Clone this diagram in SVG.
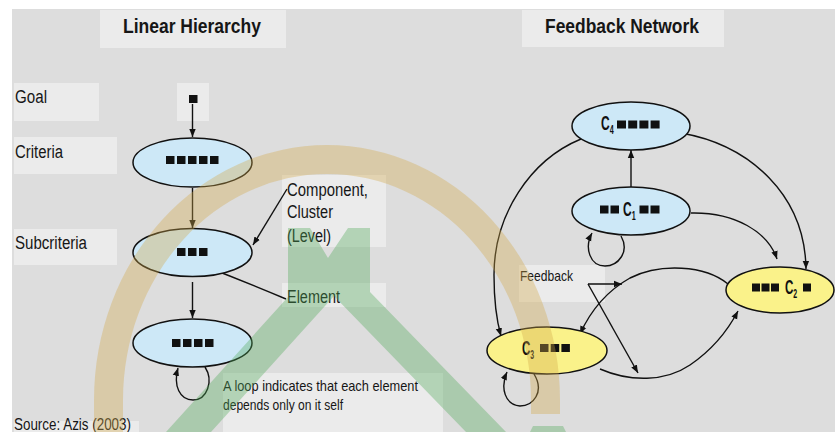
<svg xmlns="http://www.w3.org/2000/svg" width="835" height="432" viewBox="0 0 835 432">
  <defs>
    <style>
      .panel { fill: #ebebeb; }
      .ell-blue { fill: #cde8f7; stroke: #111; stroke-width: 1.5; }
      .ell-yel { fill: #faf28a; stroke: #111; stroke-width: 1.5; }
      .sq { fill: #111; }
      .edge { fill: none; stroke: #111; stroke-width: 1.4; marker-end: url(#arr); }
      .txt { font-family: "Liberation Sans Narrow", "Liberation Sans", Arial, sans-serif; fill: #161616; }
      .title { font-size: 21px; font-weight: bold; }
      .lbl { font-size: 18px; }
      .note { font-size: 15px; }
      .cname { font-family: "Liberation Sans", Arial, sans-serif; font-size: 20px; font-weight: bold; fill: #111; }
      .csub { font-size: 12px; }
      .wm-tan { fill: #d2a94c; opacity: 0.36; }
      .wm-green { fill: #4fa85a; opacity: 0.36; }
    </style>
    <marker id="arr" viewBox="0 0 10 10" refX="10" refY="5" markerWidth="8" markerHeight="8" markerUnits="userSpaceOnUse" orient="auto">
      <path d="M0,1 L10,5 L0,9 z" fill="#111"/>
    </marker>
  </defs>

  <!-- page -->
  <rect x="0" y="0" width="835" height="432" fill="#ffffff"/>
  <rect x="12" y="9" width="823" height="423" fill="#dddddd"/>

  <!-- light caption panels -->
  <g id="panels">
    <rect class="panel" x="100" y="10" width="186" height="38"/>
    <rect class="panel" x="522" y="10" width="202" height="37"/>
    <rect class="panel" x="14" y="83" width="85" height="38"/>
    <rect class="panel" x="177" y="83" width="32" height="38"/>
    <rect class="panel" x="14" y="137" width="103" height="37"/>
    <rect class="panel" x="14" y="229" width="103" height="36"/>
    <rect class="panel" x="282" y="175" width="104" height="72"/>
    <rect class="panel" x="282" y="283" width="104" height="24"/>
    <rect class="panel" x="223" y="373" width="220" height="59"/>
    <rect class="panel" x="519" y="265" width="86" height="37"/>
    <rect class="panel" x="14" y="421" width="125" height="11"/>
  </g>

  <!-- titles -->
  <text class="txt title" x="123" y="33" textLength="138" lengthAdjust="spacingAndGlyphs">Linear Hierarchy</text>
  <text class="txt title" x="545" y="33" textLength="154" lengthAdjust="spacingAndGlyphs">Feedback Network</text>

  <!-- level labels -->
  <text class="txt lbl" x="15" y="103" textLength="32" lengthAdjust="spacingAndGlyphs">Goal</text>
  <text class="txt lbl" x="15" y="158" textLength="48" lengthAdjust="spacingAndGlyphs">Criteria</text>
  <text class="txt lbl" x="15" y="249" textLength="72" lengthAdjust="spacingAndGlyphs">Subcriteria</text>

  <!-- connectors -->
  <g id="connectors">
    <!-- linear hierarchy -->
    <path id="e-goal-crit" class="edge" d="M192.5,104 L192.5,137"/>
    <path id="e-crit-sub" class="edge" d="M192.5,188 L192.5,228"/>
    <path id="e-sub-bot" class="edge" d="M192.5,282 L192.5,318"/>
    <path id="e-bot-loop" class="edge" d="M205,367 C214,381 207,400 193,400 C180,400 173,386 178,368"/>
    <path id="e-comp" class="edge" d="M287,189 L253,245"/>
    <path id="e-elem" class="edge" d="M286,299 Q246,282 204,266"/>

    <!-- feedback network -->
    <path id="e-c1-c4" class="edge" d="M631,187 L631,150"/>
    <path id="e-c4-c3" class="edge" d="M581,139 C530,160 494,215 494,275 C494,305 497,322 501,336"/>
    <path id="e-c4-c2" class="edge" d="M681,133 C750,145 805,195 806,269"/>
    <path id="e-c1-c2" class="edge" d="M691,213 C735,212 768,232 777,259"/>
    <path id="e-c1-loop" class="edge" d="M621,236 C630,252 618,266 605,266 C590,266 584,248 592,233"/>
    <path id="e-c2-c3" class="edge" d="M728,284 C705,265 660,263 630,278 C605,292 590,312 580,334"/>
    <path id="e-c3-c2" class="edge" d="M600,369 C630,382 665,382 690,365 C712,350 728,330 738,311"/>
    <path id="e-c3-loop" class="edge" d="M534,374 C545,392 533,406 520,406 C505,405 500,388 507,372"/>
    <path id="e-fb-right" class="edge" d="M588,284 L622,284"/>
    <path id="e-fb-down" class="edge" d="M588,284 L638,373"/>
  </g>

  <!-- linear hierarchy nodes -->
  <g id="goal">
    <rect class="sq" x="189" y="95" width="8.5" height="8"/>
  </g>
  <g id="criteria">
    <ellipse class="ell-blue" cx="192.5" cy="162.5" rx="59.5" ry="24.5"/>
    <rect class="sq" x="166" y="156" width="8.5" height="8"/>
    <rect class="sq" x="177" y="156" width="8.5" height="8"/>
    <rect class="sq" x="188" y="156" width="8.5" height="8"/>
    <rect class="sq" x="199" y="156" width="8.5" height="8"/>
    <rect class="sq" x="210" y="156" width="8.5" height="8"/>
  </g>
  <g id="subcriteria">
    <ellipse class="ell-blue" cx="192.5" cy="252.5" rx="59.5" ry="24"/>
    <rect class="sq" x="177" y="248" width="8.5" height="8"/>
    <rect class="sq" x="188" y="248" width="8.5" height="8"/>
    <rect class="sq" x="199" y="248" width="8.5" height="8"/>
  </g>
  <g id="alternatives">
    <ellipse class="ell-blue" cx="192.5" cy="343" rx="59.5" ry="24"/>
    <rect class="sq" x="172" y="339" width="8.5" height="8"/>
    <rect class="sq" x="183" y="339" width="8.5" height="8"/>
    <rect class="sq" x="194" y="339" width="8.5" height="8"/>
    <rect class="sq" x="205" y="339" width="8.5" height="8"/>
  </g>

  <!-- callouts -->
  <g id="callouts">
    <text class="txt lbl" x="287" y="196" textLength="81" lengthAdjust="spacingAndGlyphs">Component,</text>
    <text class="txt lbl" x="287" y="218" textLength="46" lengthAdjust="spacingAndGlyphs">Cluster</text>
    <text class="txt lbl" x="287" y="242" textLength="44" lengthAdjust="spacingAndGlyphs">(Level)</text>
    <text class="txt lbl" x="287" y="303" textLength="53" lengthAdjust="spacingAndGlyphs">Element</text>
    <text class="txt note" x="223" y="391" textLength="195" lengthAdjust="spacingAndGlyphs">A loop indicates that  each element</text>
    <text class="txt note" x="223" y="410" textLength="120" lengthAdjust="spacingAndGlyphs">depends only on it self</text>
    <text class="txt note" x="520" y="281" textLength="53" lengthAdjust="spacingAndGlyphs" fill="#333">Feedback</text>
    <text class="txt" x="14" y="430" font-size="16" textLength="117" lengthAdjust="spacingAndGlyphs">Source: Azis (2003)</text>
  </g>

  <!-- feedback network nodes: cluster name with subscript, condensed horizontally -->
  <g id="c4">
    <ellipse class="ell-blue" cx="631" cy="126" rx="59" ry="24"/>
    <text class="cname" transform="translate(601,129.5) scale(0.6,1)">C<tspan class="csub" dy="4">4</tspan></text>
    <rect class="sq" x="617" y="120.5" width="9" height="8"/>
    <rect class="sq" x="628.2" y="120.5" width="9" height="8"/>
    <rect class="sq" x="639.4" y="120.5" width="9" height="8"/>
    <rect class="sq" x="650.6" y="120.5" width="9" height="8"/>
  </g>
  <g id="c1">
    <ellipse class="ell-blue" cx="631" cy="211" rx="59" ry="24"/>
    <rect class="sq" x="600" y="205.5" width="8.5" height="8"/>
    <rect class="sq" x="610.5" y="205.5" width="8.5" height="8"/>
    <text class="cname" transform="translate(623,215.5) scale(0.6,1)">C<tspan class="csub" dy="4">1</tspan></text>
    <rect class="sq" x="639.5" y="205.5" width="9" height="8"/>
    <rect class="sq" x="650.5" y="205.5" width="9" height="8"/>
  </g>
  <g id="c2">
    <ellipse class="ell-yel" cx="780" cy="290" rx="54" ry="23"/>
    <rect class="sq" x="752" y="283.5" width="8" height="8"/>
    <rect class="sq" x="761.5" y="283.5" width="8" height="8"/>
    <rect class="sq" x="771" y="283.5" width="8" height="8"/>
    <text class="cname" transform="translate(785,293.5) scale(0.58,1)">C<tspan class="csub" dy="4">2</tspan></text>
    <rect class="sq" x="803" y="283.5" width="8" height="8"/>
  </g>
  <g id="c3">
    <ellipse class="ell-yel" cx="547" cy="350.5" rx="60" ry="23.5"/>
    <text class="cname" transform="translate(522,354.5) scale(0.58,1)">C<tspan class="csub" dy="4">3</tspan></text>
    <rect class="sq" x="540" y="344" width="8.5" height="8"/>
    <rect class="sq" x="550.7" y="344" width="8.5" height="8"/>
    <rect class="sq" x="561.4" y="344" width="8.5" height="8"/>
  </g>

  <!-- translucent emblem laid over the page -->
  <g id="emblem">
    <path class="wm-tan" d="M94,432 L94,400 A233,255 0 0 1 560,400 L560,414 L531,414 L531,400 A204,226 0 0 0 123,400 L123,432 Z"/>
    <path class="wm-green" d="M288,228 L310,228 L328,258 L348,228 L370,228 L370,292 L506,432 L466,432 L334,296 L211,432 L166,432 L288,297 Z"/>
    <path class="wm-green" d="M533,426 L563,426 L566,432 L530,432 Z"/>
  </g>
</svg>
